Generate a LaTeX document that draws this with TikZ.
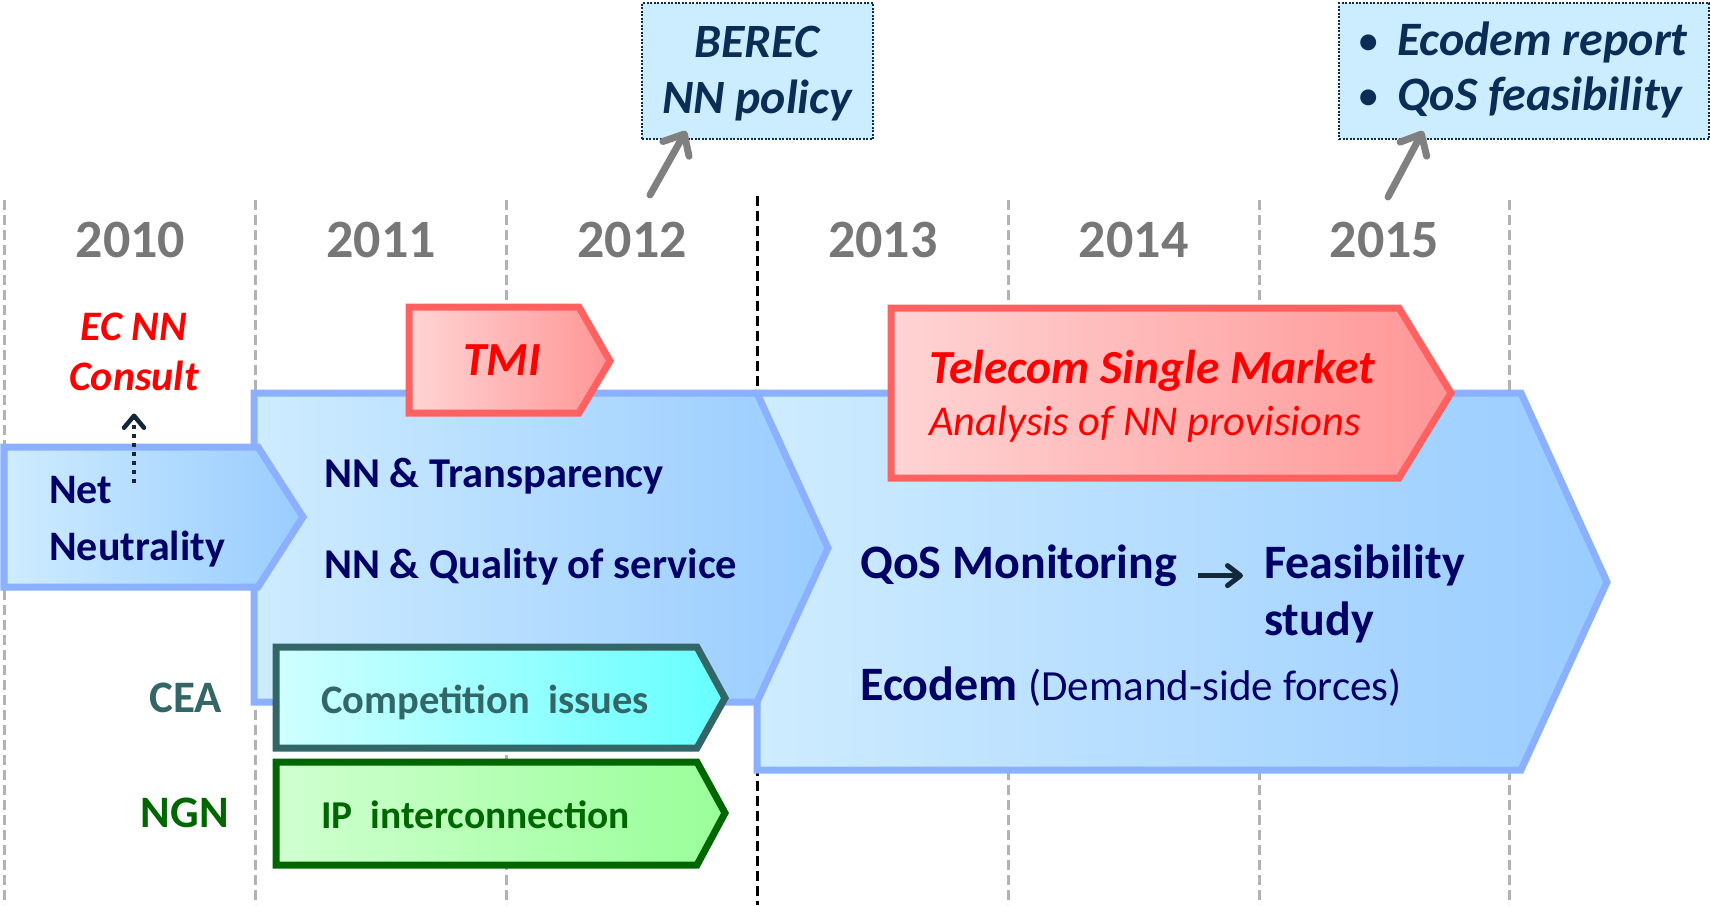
\documentclass[tikz,border=0pt]{standalone}
\usepackage{fontspec}
\setmainfont{Carlito}
\usetikzlibrary{arrows.meta,calc}

\definecolor{ink}{RGB}{0,0,102}
\definecolor{callink}{RGB}{10,45,85}
\definecolor{arrowink}{RGB}{20,40,60}
\definecolor{yeargray}{RGB}{119,119,119}
\definecolor{gridgray}{RGB}{178,178,178}
\definecolor{blueedge}{RGB}{138,176,255}
\definecolor{bluelight}{RGB}{206,236,255}
\definecolor{bluedark}{RGB}{153,204,255}
\definecolor{rededge}{RGB}{255,96,96}
\definecolor{redlight}{RGB}{255,212,212}
\definecolor{reddark}{RGB}{255,150,150}
\definecolor{tealedge}{RGB}{51,102,102}
\definecolor{cyanlight}{RGB}{208,255,255}
\definecolor{cyandark}{RGB}{102,255,255}
\definecolor{greenedge}{RGB}{0,102,0}
\definecolor{greenlight}{RGB}{208,255,208}
\definecolor{greendark}{RGB}{153,255,153}
\definecolor{callfill}{RGB}{204,236,255}

\tikzstyle{gridline} = [draw=gridgray, line width=3pt, dash pattern=on 10pt off 5pt]
\tikzstyle{splitline} = [draw=black, line width=3pt, dash pattern=on 10pt off 5pt]
\tikzstyle{bluechev} = [draw=blueedge, line width=7pt, left color=bluelight, right color=bluedark]
\tikzstyle{redchev} = [draw=rededge, line width=7pt, left color=redlight, right color=reddark]
\tikzstyle{cyanchev} = [draw=tealedge, line width=7pt, left color=cyanlight, right color=cyandark]
\tikzstyle{greenchev} = [draw=greenedge, line width=7pt, left color=greenlight, right color=greendark]
\tikzstyle{callout} = [draw=callink, fill=callfill, line width=2pt, dash pattern=on 2pt off 1.5pt, inner sep=0pt]
\tikzstyle{txt} = [inner sep=0pt, anchor=base west, font=\fontsize{42.5}{50}\selectfont\bfseries]
\tikzstyle{bigtxt} = [inner sep=0pt, anchor=base west, text=ink, font=\fontsize{48}{56}\selectfont\bfseries]
\tikzstyle{redtxt} = [inner sep=0pt, anchor=base west, text=red, font=\fontsize{47.5}{56}\selectfont\bfseries\itshape]
\tikzstyle{calltxt} = [inner sep=0pt, anchor=base, text=callink, font=\fontsize{47.8}{56}\selectfont\bfseries\itshape]
\tikzstyle{year} = [inner sep=0pt, anchor=base, text=yeargray, font=\fontsize{54}{62}\selectfont\bfseries]
\tikzstyle{grayarrow} = [draw=gray, line width=7pt, line cap=round, -{Straight Barb[round,length=17pt,width=30pt]}]
\tikzstyle{dotarrow} = [draw=arrowink, line width=4.5pt, dash pattern=on 4pt off 5pt, -{Straight Barb[round,length=12pt,width=20pt]}]
\tikzstyle{inkarrow} = [draw=arrowink, line width=5pt, -{Straight Barb[round,length=13pt,width=20pt]}]

\begin{document}
\begin{tikzpicture}[x=1pt,y=-1pt]
\useasboundingbox (0,0) rectangle (1710,905);

% year grid
\foreach \gx in {4,255,506,1008,1259,1509}
  \draw[gridline] (\gx,200) -- (\gx,905);
\draw[splitline] (757,196) -- (757,905);
\foreach \yr [count=\i from 0] in {2010,2011,2012,2013,2014,2015}
  \node[year] (y\yr) at ({130.5+250.8*\i},257) {\yr};

% chevrons
\draw[bluechev] (757,393) -- (1521,393) -- (1607,582) -- (1521,770) -- (757,770) -- cycle;
\draw[bluechev] (254,393) -- (757,393) -- (828,548) -- (757,702) -- (254,702) -- cycle;
\draw[bluechev] (4,447) -- (258,447) -- (303,517) -- (258,587) -- (4,587) -- cycle;
\draw[redchev] (409,307) -- (579,307) -- (610,361) -- (579,413) -- (409,413) -- cycle;
\draw[redchev] (891,308) -- (1399,308) -- (1451,393) -- (1399,478) -- (891,478) -- cycle;
\draw[cyanchev] (276,647) -- (697,647) -- (725,698) -- (697,748) -- (276,748) -- cycle;
\draw[greenchev] (276,762) -- (697,762) -- (725,813) -- (697,865) -- (276,865) -- cycle;

\node[txt, text=ink, font=\fontsize{42}{50}\selectfont\bfseries] (net) at (49,503) {Net};
\node[txt, text=ink, font=\fontsize{42}{50}\selectfont\bfseries] (neutrality) at (49,560) {Neutrality};
\node[txt, text=ink] (transp) at (324,487) {NN \& Transparency};
\node[txt, text=ink] (quality) at (324,578) {NN \& Quality of service};
\node[bigtxt] (qos) at (860,578) {QoS Monitoring};
\node[bigtxt] (feas) at (1264,578) {Feasibility};
\node[bigtxt] (study) at (1264,635) {study};
\node[bigtxt] (ecodem) at (860,700) {Ecodem {\mdseries\fontsize{43}{50}\selectfont(Demand-side forces)}};
\draw[inkarrow, shorten <=21pt, shorten >=21pt] (qos.mid east) -- (feas.mid west);

\node[redtxt] (tmi) at (463,375) {TMI};
\node[redtxt] (tsm) at (929,383) {Telecom Single Market};
\node[redtxt, font=\fontsize{42.5}{50}\selectfont\itshape] (analysis) at (929,435) {Analysis of NN provisions};
\node[redtxt, anchor=base, font=\fontsize{42}{50}\selectfont\bfseries\itshape] (ecnn) at (134,340) {EC NN};
\node[redtxt, anchor=base, font=\fontsize{42}{50}\selectfont\bfseries\itshape] (consult) at (134,390) {Consult};
\coordinate (ecsrc) at (134,483);
\draw[dotarrow, shorten >=23pt] (ecsrc) -- (consult.south);

\node[txt, text=tealedge, font=\fontsize{40.5}{48}\selectfont\bfseries] (compet) at (321,713) {Competition~ issues};
\node[txt, text=greenedge, font=\fontsize{39.5}{48}\selectfont\bfseries] (ipint) at (321,828) {IP~ interconnection};
\node[txt, text=tealedge, font=\fontsize{45}{54}\selectfont\bfseries, anchor=base east] (cea) at (222,712) {CEA};
\node[txt, text=greenedge, font=\fontsize{45}{54}\selectfont\bfseries, anchor=base east] (ngn) at (229,827) {NGN};

% callouts
\node[callout, minimum width=231pt, minimum height=136pt, anchor=north west] (berec) at (641,2) {};
\node[calltxt] (berect) at (757,57) {BEREC};
\node[calltxt] (nnpol) at (757,113) {NN policy};
\coordinate (berectail) at (650,195);
\draw[grayarrow] (berectail) -- ([shift={(45,-9)}]berec.south west);

\node[callout, minimum width=370pt, minimum height=136pt, anchor=north west] (ecobox) at (1338,2) {};
\node[calltxt, font=\fontsize{45}{54}\selectfont] (b1) at (1369,55) {\textbullet};
\node[calltxt, font=\fontsize{45}{54}\selectfont] (b2) at (1369,110) {\textbullet};
\node[calltxt, anchor=base west, font=\fontsize{48}{56}\selectfont\bfseries\itshape] (ecorep) at (1397,55) {Ecodem report};
\node[calltxt, anchor=base west, font=\fontsize{48}{56}\selectfont\bfseries\itshape] (qosfeas) at (1397,110) {QoS feasibility};
\coordinate (ecotail) at (1388,197);
\draw[grayarrow] (ecotail) -- ([shift={(85,-9)}]ecobox.south west);
\end{tikzpicture}
\end{document}
